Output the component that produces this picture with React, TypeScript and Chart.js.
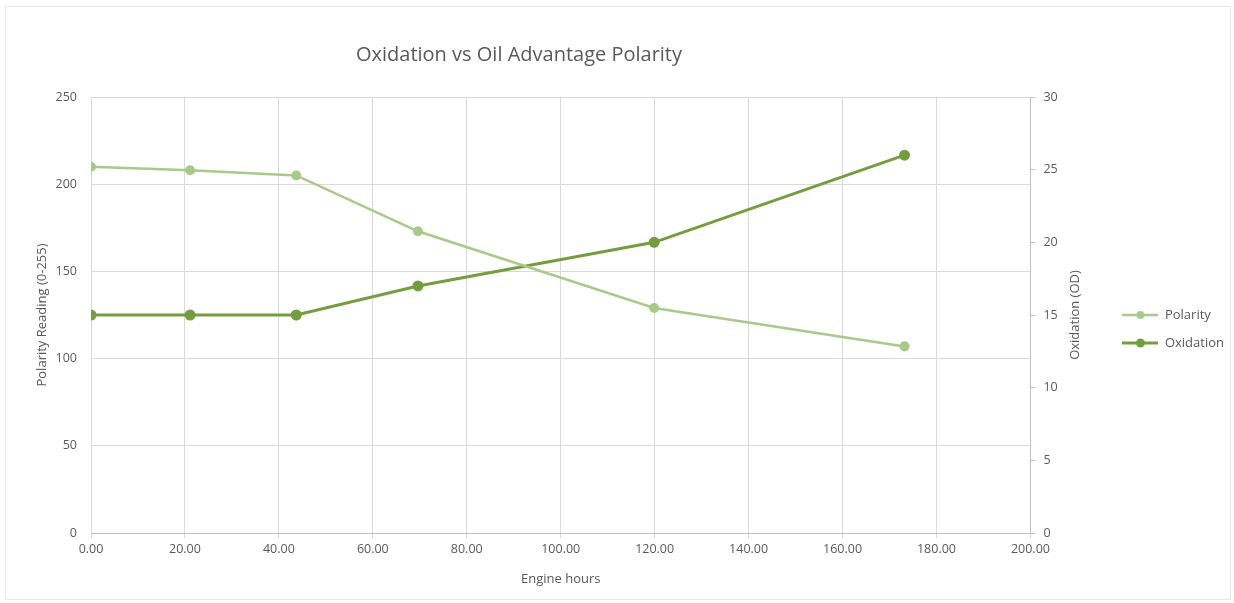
import React, { useEffect, useRef } from "react";
import { Chart, registerables } from "chart.js";

Chart.register(...registerables);

// ---- data ----
const engineHours = [0, 21.1, 43.7, 69.6, 119.9, 173.2];
const polarity = [210, 208, 205, 173, 129, 107];
const oxidation = [15, 15, 15, 17, 20, 26];

const seriesNames = ["Polarity", "Oxidation"];
const chartTitle = "Oxidation vs Oil Advantage Polarity";
const xTitle = "Engine hours";
const yLeftTitle = "Polarity Reading (0-255)";
const yRightTitle = "Oxidation (OD)";

const xRange = { min: 0, max: 200, step: 20 };
const yLeftRange = { min: 0, max: 250, step: 50 };
const yRightRange = { min: 0, max: 30, step: 5 };

// ---- style ----
const FONT = "'Open Sans', sans-serif";
const TEXT = "#595959";
const GRID = "#d9d9d9";
const AXIS = "#bfbfbf";
const POL_COLOR = "#a9c98b";
const OX_COLOR = "#739d3e";

function makeSymbol(color: string, lw: number, r: number) {
  const c = document.createElement("canvas");
  c.width = 36;
  c.height = 12;
  const ctx = c.getContext("2d")!;
  ctx.strokeStyle = color;
  ctx.lineWidth = lw;
  ctx.beginPath();
  ctx.moveTo(0, 6);
  ctx.lineTo(36, 6);
  ctx.stroke();
  ctx.fillStyle = color;
  ctx.beginPath();
  ctx.arc(18, 6, r, 0, Math.PI * 2);
  ctx.fill();
  return c;
}

export default function App() {
  const ref = useRef<HTMLCanvasElement | null>(null);

  useEffect(() => {
    if (!ref.current) return;
    const symbols = [makeSymbol(POL_COLOR, 2.5, 4), makeSymbol(OX_COLOR, 3, 4.5)];

    const titlePlugin = {
      id: "customTitle",
      afterDraw(chart: any) {
        const ctx = chart.ctx;
        ctx.save();
        ctx.font = `20px ${FONT}`;
        ctx.fillStyle = TEXT;
        ctx.textAlign = "center";
        ctx.textBaseline = "middle";
        ctx.fillText(chartTitle, 519, 55);
        ctx.restore();
      },
    };

    const rightTitlePlugin = {
      id: "rightAxisTitle",
      afterDraw(chart: any) {
        const { ctx, chartArea } = chart;
        ctx.save();
        ctx.translate(chartArea.right + 45, (chartArea.top + chartArea.bottom) / 2);
        ctx.rotate(-Math.PI / 2);
        ctx.font = `13px ${FONT}`;
        ctx.fillStyle = TEXT;
        ctx.textAlign = "center";
        ctx.textBaseline = "middle";
        ctx.fillText(yRightTitle, 0, 0);
        ctx.restore();
      },
    };

    const chart = new Chart(ref.current, {
      type: "line",
      data: {
        datasets: [
          {
            label: seriesNames[0],
            data: engineHours.map((x, i) => ({ x, y: polarity[i] })),
            borderColor: POL_COLOR,
            backgroundColor: POL_COLOR,
            pointBackgroundColor: POL_COLOR,
            pointBorderColor: POL_COLOR,
            borderWidth: 2.5,
            pointRadius: 3.8,
            tension: 0,
            yAxisID: "y",
          },
          {
            label: seriesNames[1],
            data: engineHours.map((x, i) => ({ x, y: oxidation[i] })),
            borderColor: OX_COLOR,
            backgroundColor: OX_COLOR,
            pointBackgroundColor: OX_COLOR,
            pointBorderColor: OX_COLOR,
            borderWidth: 3,
            pointRadius: 4,
            tension: 0,
            yAxisID: "y1",
          },
        ],
      },
      options: {
        responsive: false,
        animation: false,
        events: [],
        layout: { padding: { left: 30, top: 97, right: 0, bottom: 10 } },
        plugins: {
          title: { display: false },
          tooltip: { enabled: false },
          legend: {
            position: "right",
            align: "center",
            fullSize: false,
            title: {
              display: true,
              text: "",
              font: { size: 10, lineHeight: 1 },
              padding: { top: 0, bottom: 18 },
            },
            labels: {
              usePointStyle: true,
              pointStyleWidth: 36,
              padding: 15,
              color: TEXT,
              font: { size: 13, family: FONT },
              generateLabels(ch: any) {
                const items = (Chart.defaults.plugins.legend.labels as any).generateLabels(ch);
                items.forEach((it: any, i: number) => {
                  it.pointStyle = symbols[i];
                });
                return items;
              },
            },
          },
        },
        scales: {
          x: {
            type: "linear",
            min: xRange.min,
            max: xRange.max,
            ticks: {
              stepSize: xRange.step,
              callback: (v: any) => Number(v).toFixed(2),
              color: TEXT,
              font: { size: 12.5, family: FONT },
              padding: 4,
              maxRotation: 0,
            },
            grid: { color: GRID, tickLength: 5, drawTicks: true },
            border: { color: AXIS },
            title: {
              display: true,
              text: xTitle,
              color: TEXT,
              font: { size: 13, family: FONT },
              padding: { top: 4, bottom: 6 },
            },
            afterFit(s: any) {
              s.height = 60;
            },
          },
          y: {
            position: "left",
            min: yLeftRange.min,
            max: yLeftRange.max,
            ticks: {
              stepSize: yLeftRange.step,
              color: TEXT,
              font: { size: 12.5, family: FONT },
              padding: 14,
            },
            grid: { color: GRID, drawTicks: false },
            border: { display: false },
            title: {
              display: true,
              text: yLeftTitle,
              color: TEXT,
              font: { size: 13, family: FONT },
              padding: { top: 4, bottom: 4 },
            },
            afterFit(s: any) {
              s.width = 61;
            },
          },
          y1: {
            position: "right",
            min: yRightRange.min,
            max: yRightRange.max,
            ticks: {
              stepSize: yRightRange.step,
              color: TEXT,
              font: { size: 12.5, family: FONT },
              padding: 8,
            },
            grid: { drawOnChartArea: false, color: AXIS, tickLength: 5 },
            border: { color: AXIS },
            afterFit(s: any) {
              s.width = 77;
            },
          },
        },
      },
      plugins: [titlePlugin, rightTitlePlugin],
    } as any);

    return () => chart.destroy();
  }, []);

  return (
    <div
      style={{
        position: "fixed",
        left: 0,
        top: 0,
        width: 1234,
        height: 603,
        background: "#ffffff",
      }}
    >
      <canvas ref={ref} width={1234} height={603} style={{ display: "block", width: 1234, height: 603 }} />
      <div
        style={{
          position: "absolute",
          left: 5,
          top: 6,
          width: 1226,
          height: 594,
          border: "1px solid #e8e8e8",
          boxSizing: "border-box",
          pointerEvents: "none",
        }}
      />
    </div>
  );
}
